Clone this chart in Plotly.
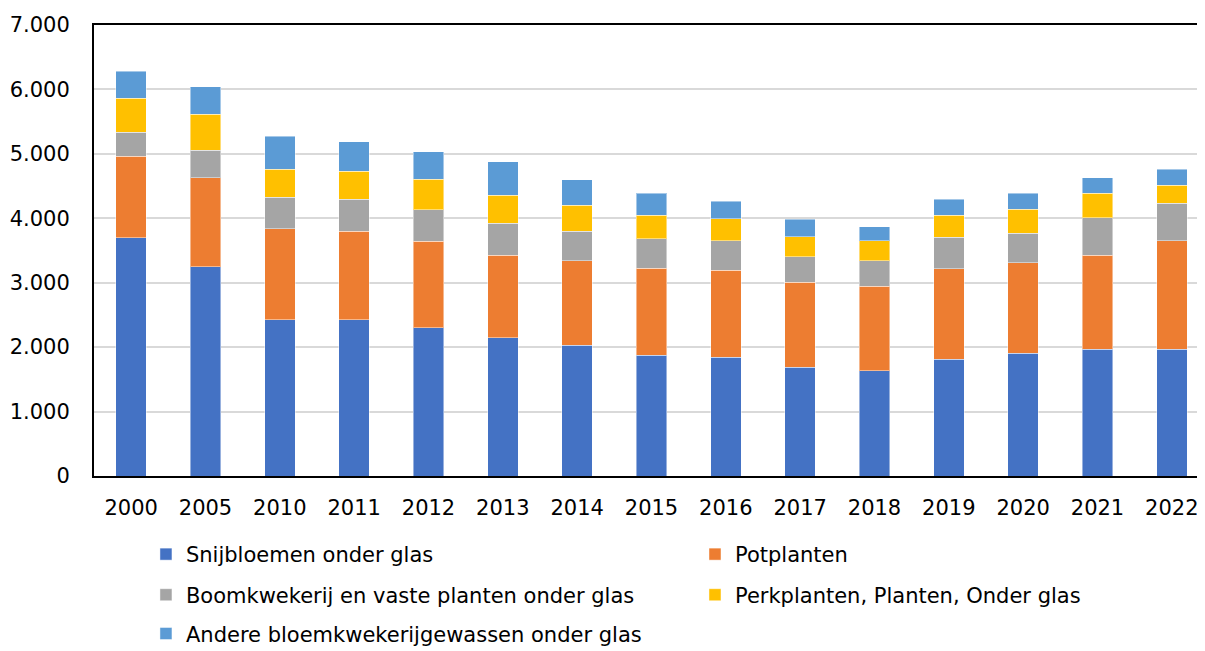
import plotly.graph_objects as go

years = ["2000", "2005", "2010", "2011", "2012", "2013", "2014", "2015",
         "2016", "2017", "2018", "2019", "2020", "2021", "2022"]

snijbloemen = [3700, 3250, 2425, 2425, 2300, 2145, 2030, 1875, 1845, 1690, 1630, 1810, 1905, 1965, 1965]
potplanten = [1265, 1380, 1410, 1375, 1345, 1285, 1310, 1350, 1350, 1320, 1315, 1405, 1405, 1460, 1685]
boomkwekerij = [370, 425, 490, 495, 490, 495, 460, 455, 455, 395, 395, 490, 455, 585, 585]
perkplanten = [525, 560, 435, 435, 470, 435, 405, 370, 345, 310, 315, 345, 375, 375, 280]
andere = [425, 425, 515, 460, 430, 520, 395, 340, 270, 270, 210, 245, 245, 245, 245]

series_names = ["Snijbloemen onder glas", "Potplanten",
                "Boomkwekerij en vaste planten onder glas",
                "Perkplanten, Planten, Onder glas",
                "Andere bloemkwekerijgewassen onder glas"]
series_values = [snijbloemen, potplanten, boomkwekerij, perkplanten, andere]
series_colors = ["#4472C4", "#ED7D31", "#A5A5A5", "#FFC000", "#5B9BD5"]

y_ticks = [0, 1000, 2000, 3000, 4000, 5000, 6000, 7000]
y_labels = ["0", "1.000", "2.000", "3.000", "4.000", "5.000", "6.000", "7.000"]

font = "DejaVu Sans, Verdana, sans-serif"
FS = 21

# legend slots: (x, y) in paper coords, one legend per entry (2 columns, 3 rows)
legend_ids = ["legend", "legend2", "legend3", "legend4", "legend5"]
col_x = [0.0466, 0.539]
row_y = [-0.174, -0.264, -0.350]
slots = [(col_x[0], row_y[0]), (col_x[1], row_y[0]),
         (col_x[0], row_y[1]), (col_x[1], row_y[1]),
         (col_x[0], row_y[2])]

fig = go.Figure()
for name, vals, color, lid in zip(series_names, series_values, series_colors, legend_ids):
    fig.add_trace(go.Bar(
        x=years, y=vals, name=name, legend=lid,
        marker=dict(color=color, line=dict(color="rgba(255,255,255,0.45)", width=1)),
    ))

legend_layout = {}
for lid, (lx, ly) in zip(legend_ids, slots):
    legend_layout[lid] = dict(
        orientation="h", x=lx, xanchor="left", y=ly, yanchor="middle",
        font=dict(family=font, size=FS, color="#000000"),
        bgcolor="rgba(0,0,0,0)", itemwidth=30,
    )

fig.update_layout(
    barmode="stack",
    bargap=0.59,
    width=1205, height=651,
    margin=dict(l=86, r=4, t=17, b=170),
    paper_bgcolor="white",
    plot_bgcolor="white",
    font=dict(family=font, size=FS, color="#000000"),
    showlegend=True,
    xaxis=dict(
        showline=True, linecolor="black", linewidth=2, mirror=True,
        ticks="", tickfont=dict(size=FS), automargin=False,
        ticklabelstandoff=12,
    ),
    yaxis=dict(
        range=[0, 7000],
        tickvals=y_ticks, ticktext=y_labels,
        showgrid=True, gridcolor="#D9D9D9", gridwidth=1.5,
        showline=True, linecolor="black", linewidth=2, mirror=True,
        ticks="", tickfont=dict(size=FS), automargin=False,
        ticklabelstandoff=18,
        zeroline=False,
    ),
    **legend_layout,
)

fig.write_html("out.html")
